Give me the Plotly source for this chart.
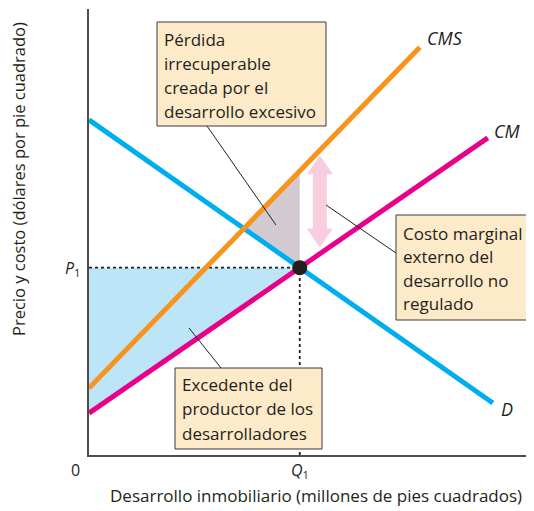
import plotly.graph_objects as go

# curve endpoints (arbitrary units)
d_x = [0, 9.57]
d_y = [8.96, 1.39]
cm_x = [0, 9.45]
cm_y = [1.12, 8.48]
cms_x = [0, 7.84]
cms_y = [1.79, 10.9]
arrow_at = 5.47

box_loss = ["Pérdida", "irrecuperable", "creada por el", "desarrollo excesivo"]
box_ext = ["Costo marginal", "externo del", "desarrollo no", "regulado"]
box_surplus = ["Excedente del", "productor de los", "desarrolladores"]

X_TITLE = "Desarrollo inmobiliario (millones de pies cuadrados)"
Y_TITLE = "Precio y costo (dólares por pie cuadrado)"

BLUE = "#00aeef"
MAGENTA = "#e8008a"
ORANGE = "#f7941d"
INK = "#231f20"
FONT = "Open Sans"
XMAX = 439 / 42.2
YMAX = 446 / 37.4

# page pixel -> data helpers (plot origin at px 89,455)
def dx(px): return (px - 89) / 42.2
def dy(py): return (455 - py) / 37.4

def line_fn(xs, ys):
    m = (ys[1] - ys[0]) / (xs[1] - xs[0])
    return m, ys[0]

md, bd = line_fn(d_x, d_y)
mc, bc = line_fn(cm_x, cm_y)
ms, bs = line_fn(cms_x, cms_y)
q1 = (bd - bc) / (mc - md)
p1 = bd + md * q1
xi = (bd - bs) / (ms - md)
yi = bd + md * xi
cms_q1 = bs + ms * q1

fig = go.Figure()
# producer surplus
fig.add_trace(go.Scatter(x=[0, q1, 0], y=[p1, p1, bc], fill="toself", mode="lines",
                         line=dict(width=0), fillcolor="#bde5f8", hoverinfo="skip"))
# deadweight loss
fig.add_trace(go.Scatter(x=[q1, q1, xi], y=[p1, cms_q1, yi], fill="toself", mode="lines",
                         line=dict(width=0), fillcolor="#d3cad1", hoverinfo="skip"))
# dotted guides
fig.add_trace(go.Scatter(x=[0, q1], y=[p1, p1], mode="lines",
                         line=dict(color=INK, width=1.8, dash="dot")))
fig.add_trace(go.Scatter(x=[q1, q1], y=[0, p1], mode="lines",
                         line=dict(color=INK, width=1.8, dash="dot")))
# curves
fig.add_trace(go.Scatter(x=d_x, y=d_y, mode="lines", line=dict(color=BLUE, width=5)))
fig.add_trace(go.Scatter(x=cm_x, y=cm_y, mode="lines", line=dict(color=MAGENTA, width=5)))
fig.add_trace(go.Scatter(x=cms_x, y=cms_y, mode="lines", line=dict(color=ORANGE, width=5)))
fig.add_trace(go.Scatter(x=[q1], y=[p1], mode="markers",
                         marker=dict(color=INK, size=15)))

# pink double arrow between CMS and CM
top = bs + ms * arrow_at - 0.13
bot = bc + mc * arrow_at + 0.17
hw, sw, hl = 13 / 42.2, 7 / 42.2, 19 / 37.4
a = arrow_at
path = (f"M{a},{top} L{a+hw},{top-hl} L{a+sw},{top-hl} L{a+sw},{bot+hl} L{a+hw},{bot+hl} "
        f"L{a},{bot} L{a-hw},{bot+hl} L{a-sw},{bot+hl} L{a-sw},{top-hl} L{a-hw},{top-hl} Z")
fig.add_shape(type="path", path=path, fillcolor="#f8cde0", line=dict(width=0))

# leader lines
for (x0, y0, x1, y1) in [(207, 126, 276, 225), (396, 253, 326, 205), (221, 368, 189, 328)]:
    fig.add_shape(type="line", x0=dx(x0), y0=dy(y0), x1=dx(x1), y1=dy(y1),
                  line=dict(color=INK, width=1))

# text boxes: rectangle plus one annotation per line (reference line pitch ~24px)
def add_box(lines, left, top_px, w, h, first, pitch):
    fig.add_shape(type="rect", x0=dx(left), x1=dx(left + w), y0=dy(top_px), y1=dy(top_px + h),
                  fillcolor="#fdeac8", line=dict(color="#3a3a3a", width=1))
    for i, ln in enumerate(lines):
        fig.add_annotation(x=dx(left + 5), y=dy(top_px + first + pitch * i),
                           xanchor="left", yanchor="middle", text=ln, showarrow=False,
                           font=dict(family=FONT, size=17, color=INK))

add_box(box_loss, 157, 22, 169, 104, 17, 24)
add_box(box_ext, 396, 215, 136, 105, 18, 23.5)
add_box(box_surplus, 175, 368, 147, 81, 16, 24.5)

# curve labels
for txt, px, py in [("CMS", 425, 38), ("CM", 492, 131), ("D", 499, 409)]:
    fig.add_annotation(x=dx(px), y=dy(py), xanchor="left", yanchor="middle",
                       text=f"<i>{txt}</i>", showarrow=False,
                       font=dict(family=FONT, size=18, color=INK))

# labels outside the plot area go in paper coordinates
def paper(px, py): return dx(px) / XMAX, dy(py) / YMAX

for txt, px, py, xa in [("<i>P</i><sub>1</sub>", 82, 268, "right"),
                        ("<i>Q</i><sub>1</sub>", 300, 470, "center"),
                        ("0", 75, 470, "center")]:
    x, y = paper(px, py)
    fig.add_annotation(xref="paper", yref="paper", x=x, y=y, xanchor=xa, yanchor="middle",
                       text=txt, showarrow=False, font=dict(family=FONT, size=16, color=INK))

x, y = paper(316, 495)
fig.add_annotation(xref="paper", yref="paper", x=x, y=y, xanchor="center", yanchor="middle",
                   text=X_TITLE, showarrow=False, font=dict(family=FONT, size=17, color=INK))
x, y = paper(18, 179)
fig.add_annotation(xref="paper", yref="paper", x=x, y=y, xanchor="center", yanchor="middle",
                   text=Y_TITLE, textangle=-90, showarrow=False,
                   font=dict(family=FONT, size=16.5, color=INK))

# the page puts the figure 8px in from the top-left, so trim margins by that
fig.update_layout(width=526, height=503, showlegend=False,
                  margin=dict(l=81, r=6, t=1, b=56),
                  paper_bgcolor="white", plot_bgcolor="white")
fig.update_xaxes(range=[0, XMAX], showline=True, linecolor="#4d4d4d", linewidth=1.5,
                 showticklabels=False, showgrid=False, zeroline=False, ticks="")
fig.update_yaxes(range=[0, YMAX], showline=True, linecolor="#4d4d4d", linewidth=1.5,
                 showticklabels=False, showgrid=False, zeroline=False, ticks="")

fig.write_html("out.html")
